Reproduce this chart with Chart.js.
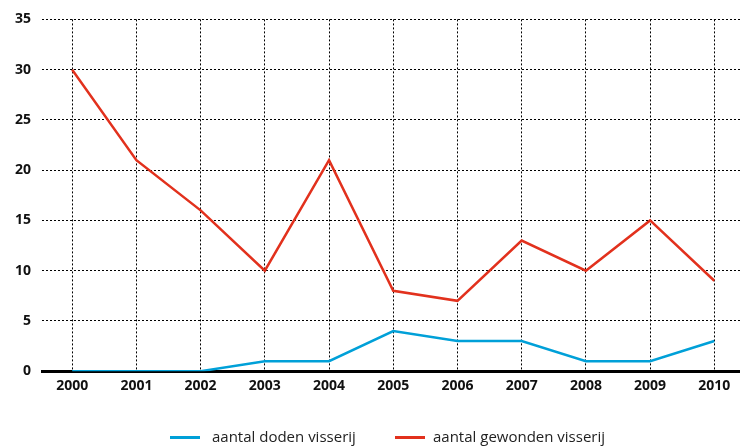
<!DOCTYPE html>
<html>
<head>
<meta charset="utf-8">
<script src="https://cdn.jsdelivr.net/npm/chart.js@4/dist/chart.umd.min.js"></script>
<style>
html,body{margin:0;padding:0;background:#fff;}
#wrap{width:740px;height:447px;position:relative;overflow:hidden;}
#c{position:absolute;left:0;top:0;}
.lg-line{position:absolute;height:3px;width:30px;}
.lg-text{position:absolute;font-family:'Open Sans',sans-serif;font-size:15px;color:#222;line-height:20px;white-space:nowrap;}
</style>
</head>
<body>
<div id="wrap"><canvas id="c" width="740" height="447"></canvas><div id="legend"></div></div>
<script>
const years = [2000, 2001, 2002, 2003, 2004, 2005, 2006, 2007, 2008, 2009, 2010];
const doden = [0, 0, 0, 1, 1, 4, 3, 3, 1, 1, 3];
const gewonden = [30, 21, 16, 10, 21, 8, 7, 13, 10, 15, 9];
const yTicks = [0, 5, 10, 15, 20, 25, 30, 35];
const seriesNames = ['aantal doden visserij', 'aantal gewonden visserij'];

const pts = arr => arr.map((v, i) => ({x: years[i], y: v}));

const chart = new Chart(document.getElementById('c'), {
  type: 'line',
  data: {
    datasets: [
      {label: seriesNames[0], data: pts(doden), borderColor: '#00a0d8', backgroundColor: '#00a0d8', borderWidth: 2.5, pointRadius: 0, tension: 0},
      {label: seriesNames[1], data: pts(gewonden), borderColor: '#e2311d', backgroundColor: '#e2311d', borderWidth: 2.5, pointRadius: 0, tension: 0}
    ]
  },
  options: {
    responsive: false,
    animation: false,
    devicePixelRatio: 1,
    layout: {padding: {top: 10, right: 0, left: 0, bottom: 47}},
    plugins: {
      tooltip: {enabled: false},
      legend: {display: false}
    },
    scales: {
      x: {
        type: 'linear',
        min: 1999.53,
        max: 2010.4,
        afterBuildTicks: s => { s.ticks = years.map(v => ({value: v})); },
        ticks: {
          callback: v => String(v),
          color: '#111',
          padding: 6,
          font: {family: 'Open Sans', size: 14, weight: 'bold'}
        },
        grid: {color: '#000', lineWidth: 1, drawTicks: false},
        border: {display: true, color: '#000', width: 3, dash: [2, 2]}
      },
      y: {
        min: 0,
        max: 35,
        afterBuildTicks: s => { s.ticks = yTicks.map(v => ({value: v})); },
        afterFit: s => { s.width = 42; },
        ticks: {
          color: '#111',
          padding: 11,
          font: {family: 'Open Sans', size: 14, weight: 'bold'}
        },
        grid: {color: '#000', lineWidth: 1, drawTicks: false},
        border: {display: false, dash: [2, 2]}
      }
    }
  }
});

// HTML legend built from the chart's datasets
const legendPos = [{line: 170, text: 212}, {line: 395, text: 433}];
const lg = document.getElementById('legend');
chart.data.datasets.forEach((ds, i) => {
  const ln = document.createElement('div');
  ln.className = 'lg-line';
  ln.style.left = legendPos[i].line + 'px';
  ln.style.top = '436px';
  ln.style.background = ds.borderColor;
  lg.appendChild(ln);
  const tx = document.createElement('div');
  tx.className = 'lg-text';
  tx.style.left = legendPos[i].text + 'px';
  tx.style.top = '426px';
  tx.textContent = ds.label;
  lg.appendChild(tx);
});
</script>
</body>
</html>
